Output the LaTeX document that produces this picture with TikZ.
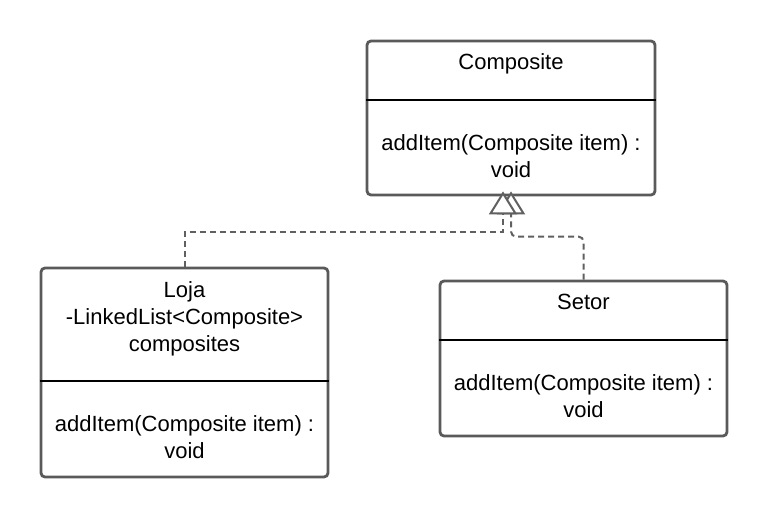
\documentclass[tikz,border=0pt]{standalone}
\usepackage{fontspec}
\setmainfont{Liberation Sans}
\usetikzlibrary{arrows.meta}
\definecolor{boxgray}{HTML}{5A5A5A}
\definecolor{linegray}{HTML}{606060}
\tikzset{
  umlbox/.style={draw=boxgray, line width=2.8pt, rounded corners=4pt, fill=white, inner sep=0pt},
  umltext/.style={font=\fontsize{22}{27}\selectfont, align=center, inner sep=0pt, text=black},
  divider/.style={draw=black, line width=1.3pt},
  realize/.style={draw=linegray, line width=2pt, dash pattern=on 6pt off 4pt,
    -{Triangle[open, fill=white, width=28pt, length=23pt, line width=2pt]}},
}
\begin{document}
\begin{tikzpicture}[x=1pt,y=-1pt]
\useasboundingbox (0,0) rectangle (768,518);
% boxes
\node[umlbox, minimum width=288pt, minimum height=154pt] (comp) at (511,118) {};
\node[umlbox, minimum width=287pt, minimum height=209pt] (loja) at (184.5,372.5) {};
\node[umlbox, minimum width=287pt, minimum height=155pt] (setor) at (583.5,358.5) {};
% dividers
\draw[divider] (comp.west |- 0,100) coordinate (cd1) -- (comp.east |- 0,100) coordinate (cd2);
\draw[divider] (loja.west |- 0,381) coordinate (ld1) -- (loja.east |- 0,381) coordinate (ld2);
\draw[divider] (setor.west |- 0,340) coordinate (sd1) -- (setor.east |- 0,340) coordinate (sd2);
% texts
\node[umltext] (ctitle) at (511,64) {Composite};
\node[umltext] (cmeth) at (511,156) {addItem(Composite item) :\\void};
\node[umltext] (ltitle) at (184.5,319) {Loja\\-LinkedList<Composite>\\composites};
\node[umltext] (lmeth) at (184.5,437) {addItem(Composite item) :\\void};
\node[umltext] (stitle) at (583.5,302) {Setor};
\node[umltext] (smeth) at (583.5,396) {addItem(Composite item) :\\void};
% connectors
\coordinate (tipR) at ([xshift=0pt,yshift=5pt]comp.south);
\coordinate (tipL) at ([xshift=-8pt,yshift=5pt]comp.south);
\draw[realize, rounded corners=5pt] (setor.north) -- ++(0,-43) -| (tipR);
\draw[realize] (loja.north) -- ++(0,-35) -| (tipL);
\end{tikzpicture}
\end{document}
